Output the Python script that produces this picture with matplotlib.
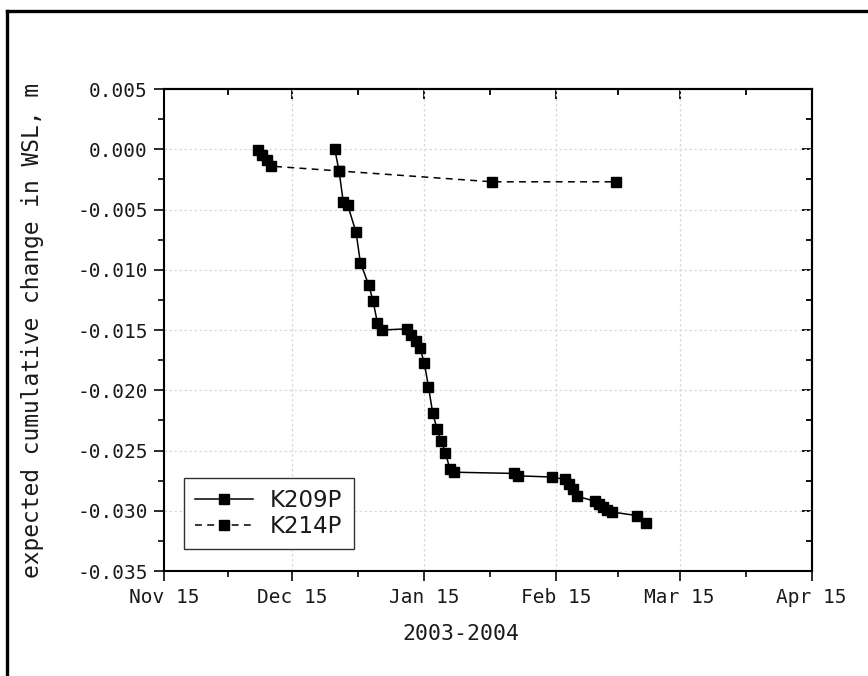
import matplotlib
matplotlib.use('Agg')
import matplotlib.pyplot as plt
import matplotlib.dates as mdates
from matplotlib.lines import Line2D
from matplotlib.ticker import FixedLocator, MultipleLocator, FuncFormatter
import numpy as np
import pandas as pd

# expected cumulative change in water surface level per well, metres
k209_dates = ['2003-12-25', '2003-12-26', '2003-12-27', '2003-12-28', '2003-12-30', '2003-12-31',
              '2004-01-02', '2004-01-03', '2004-01-04', '2004-01-05', '2004-01-11', '2004-01-12',
              '2004-01-13', '2004-01-14', '2004-01-15', '2004-01-16', '2004-01-17', '2004-01-18',
              '2004-01-19', '2004-01-20', '2004-01-21', '2004-01-22', '2004-02-05', '2004-02-06',
              '2004-02-14', '2004-02-17', '2004-02-18', '2004-02-19', '2004-02-20', '2004-02-24',
              '2004-02-25', '2004-02-26', '2004-02-27', '2004-02-28', '2004-03-05', '2004-03-07']
k209_wsl = [0.0000, -0.0018, -0.0044, -0.0046, -0.0069, -0.0094,
            -0.0113, -0.0126, -0.0144, -0.0150, -0.0149, -0.0154,
            -0.0159, -0.0165, -0.0177, -0.0197, -0.0219, -0.0232,
            -0.0242, -0.0252, -0.0265, -0.0268, -0.0269, -0.0271,
            -0.0272, -0.0274, -0.0278, -0.0282, -0.0288, -0.0292,
            -0.0294, -0.0297, -0.0299, -0.0301, -0.0304, -0.0310]

k214_dates = ['2003-12-07', '2003-12-08', '2003-12-09', '2003-12-10', '2003-12-26',
              '2004-01-31', '2004-02-29']
k214_wsl = [-0.0001, -0.0005, -0.0009, -0.0014, -0.0018, -0.0027, -0.0027]

x_ticks = ['2003-11-15', '2003-12-15', '2004-01-15', '2004-02-15', '2004-03-15', '2004-04-15']
x_tick_labels = ['Nov 15', 'Dec 15', 'Jan 15', 'Feb 15', 'Mar 15', 'Apr 15']

mono = 'DejaVu Sans Mono'
ink = '#1a1a1a'

fig = plt.figure(figsize=(8.68, 6.76), dpi=100)
ax = fig.add_axes([0.1895, 0.1553, 0.7456, 0.7130])

ax.plot(pd.to_datetime(k209_dates), k209_wsl, color='black', lw=1.1, ls='-',
        marker='s', ms=6.5, label='K209P')
ax.plot(pd.to_datetime(k214_dates), k214_wsl, color='black', lw=1.1, ls=(0, (4.5, 3.5)),
        marker='s', ms=6.5, label='K214P')

major = mdates.date2num(pd.to_datetime(x_ticks))
minor = (major[:-1] + major[1:]) / 2

ax.set_xlim(major[0], major[-1])
ax.set_ylim(-0.035, 0.005)
ax.xaxis.set_major_locator(FixedLocator(major))
ax.xaxis.set_minor_locator(FixedLocator(minor))
ax.set_xticklabels(x_tick_labels)
ax.yaxis.set_major_locator(MultipleLocator(0.005))
ax.yaxis.set_minor_locator(MultipleLocator(0.0025))
ax.yaxis.set_major_formatter(FuncFormatter(lambda v, p: f'{round(v, 4) + 0.0:.3f}'))

ax.grid(True, which='major', color='#d8d8d8', ls=(0, (2, 2)), lw=0.9)
ax.set_axisbelow(True)

for s in ax.spines.values():
    s.set_linewidth(1.5)
ax.tick_params(which='both', direction='out', width=1.3, colors=ink, labelcolor=ink)
ax.tick_params(which='major', length=7, pad=5, labelsize=14)
ax.tick_params(which='minor', length=4)
for lab in ax.get_xticklabels() + ax.get_yticklabels():
    lab.set_family(mono)

# inward ticks along the top and right edges, no labels
top = ax.secondary_xaxis('top')
top.xaxis.set_major_locator(FixedLocator(major))
top.xaxis.set_minor_locator(FixedLocator(minor))
top.tick_params(which='both', direction='in', width=1.3, labeltop=False)
top.tick_params(which='major', length=7)
top.tick_params(which='minor', length=4)
right = ax.secondary_yaxis('right')
right.yaxis.set_major_locator(MultipleLocator(0.005))
right.yaxis.set_minor_locator(MultipleLocator(0.0025))
right.tick_params(which='both', direction='in', width=1.3, labelright=False)
right.tick_params(which='major', length=7)
right.tick_params(which='minor', length=4)
for sec in (top, right):
    for s in sec.spines.values():
        s.set_linewidth(1.5)

ax.set_xlabel('2003-2004', family=mono, fontsize=15.5, color=ink)
ax.xaxis.set_label_coords(0.458, -0.11)
ax.set_ylabel('expected cumulative change in WSL, m', family=mono, fontsize=16.5, color=ink)
ax.yaxis.set_label_coords(-0.186, 0.5)

leg = ax.legend(loc='lower left', bbox_to_anchor=(0.030, 0.045), borderaxespad=0,
                frameon=True, fancybox=False, edgecolor='#333333', framealpha=1,
                handlelength=2.5, handletextpad=0.75, borderpad=0.5, labelspacing=0.12,
                prop={'family': 'DejaVu Sans', 'size': 16.5})
leg.get_frame().set_linewidth(1.0)
for t in leg.get_texts():
    t.set_color(ink)

# heavy frame on the left and top edges of the figure
fig.add_artist(Line2D([7 / 868, 7 / 868], [0, 1 - 10.5 / 676], transform=fig.transFigure,
                      color='black', lw=2.4, solid_capstyle='projecting'))
fig.add_artist(Line2D([7 / 868, 1], [1 - 10.5 / 676, 1 - 10.5 / 676], transform=fig.transFigure,
                      color='black', lw=2.4, solid_capstyle='projecting'))

fig.savefig('out.png', dpi=100)
